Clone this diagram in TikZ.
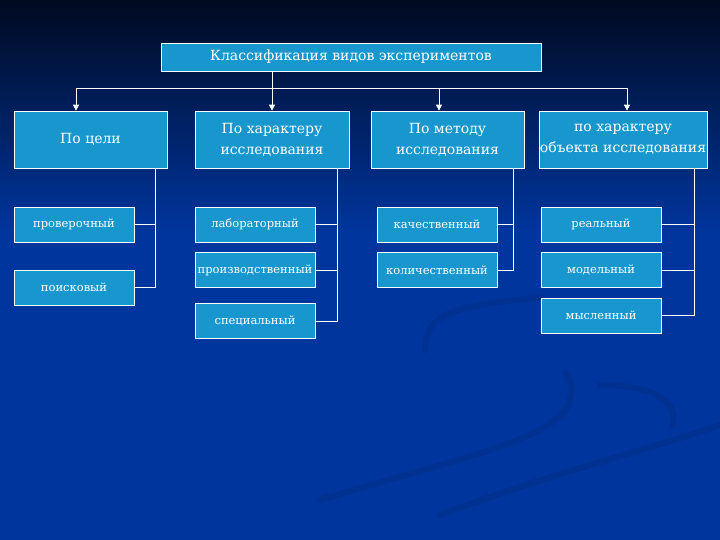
\documentclass[tikz,border=0pt]{standalone}
\usepackage{fontspec}
\setmainfont{DejaVu Serif}
\usetikzlibrary{arrows.meta, positioning}
\definecolor{cnavy}{HTML}{000A20}
\definecolor{cblue}{HTML}{00359D}
\definecolor{cswirl}{HTML}{003190}
\definecolor{cbox}{HTML}{1897CF}
\tikzset{
  every picture/.style={x=1pt, y=-1pt, line width=0.8pt},
  box/.style={draw=white, fill=cbox, text=white, align=center, inner sep=1pt, line width=0.7pt},
  head/.style={box, minimum width=380pt, minimum height=28pt, font=\fontsize{14}{16}\selectfont},
  cat/.style={box, minimum width=153pt, minimum height=57pt, font=\fontsize{14}{21}\selectfont},
  item/.style={box, minimum width=120pt, minimum height=35pt, font=\fontsize{11.5}{13}\selectfont},
  link/.style={draw=white, line width=0.8pt},
  arrow/.style={link, -{Triangle[length=6pt, width=6pt]}},
  swirl/.style={draw=cswirl, line width=6pt, line cap=round},
}

\begin{document}
\begin{tikzpicture}
  \useasboundingbox (0,0) rectangle (720,540);
  % background
  \fill[cblue] (0,0) rectangle (720,540);
  \shade[top color=cnavy, bottom color=cblue] (0,0) rectangle (720,230);
  \begin{scope}
    \clip (0,0) rectangle (720,540);
    \draw[swirl] (320,500) .. controls (450,460) and (560,440) .. (570,400) .. controls (574,388) and (570,378) .. (565,372);
    \draw[swirl] (440,515) .. controls (560,470) and (650,450) .. (725,423);
    \draw[swirl] (600,385) .. controls (650,385) and (680,400) .. (672,425);
    \draw[swirl] (425,350) .. controls (425,315) and (450,305) .. (540,298);
  \end{scope}

  \node[head] (top) at (351,57) {Классификация видов экспериментов};
  \foreach \i/\x/\w/\t in {1/90.5/153/{По цели}, 2/272/154/{По характеру\\исследования},
      3/447.5/153/{По методу\\исследования}, 4/623/164/{по характеру\\объекта исследования}}
    \node[cat, minimum width=\w] (c\i) at (\x,139.5) {\t};

  \foreach \i/\x in {1/76, 3/439, 4/627} {
    \coordinate (b\i) at (\x,88);
    \draw[arrow] (b\i) -- (b\i |- c\i.north);
  }
  \draw[link] (b1) -- (b4);
  \draw[arrow] (top.south -| c2) -- (c2.north);

  \foreach \n/\x/\y/\t in {p1/74/224.5/проверочный, p2/74/287.5/поисковый,
      l1/255/224.5/лабораторный, l2/255/270/производственный, l3/255/321/специальный,
      k1/437/224.5/качественный, k2/437/270/количественный,
      r1/601/224.5/реальный, r2/601/270/модельный, r3/601/315.5/мысленный}
    \node[item] (\n) at (\x,\y) {\t};

  \foreach \i/\x/\last in {1/155/p2, 2/337/l3, 3/513/k2, 4/694/r3} {
    \coordinate (t\i) at (\x,0);
    \draw[link] (c\i.south -| t\i) |- (\last.east);
  }
  \foreach \n/\i in {p1/1, l1/2, l2/2, k1/3, r1/4, r2/4}
    \draw[link] (\n.east) -- (\n.east -| t\i);
\end{tikzpicture}
\end{document}
